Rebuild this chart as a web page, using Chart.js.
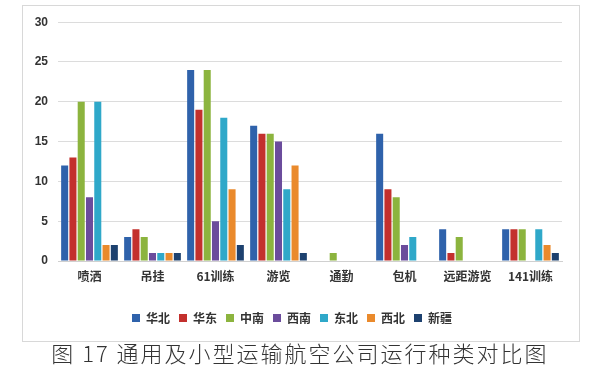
<!DOCTYPE html>
<html>
<head>
<meta charset="utf-8">
<script src="https://cdn.jsdelivr.net/npm/chart.js@4"></script>
<style>
  body { margin: 0; background: #fff; width: 600px; height: 367px; overflow: hidden; position: relative; }
  #box { position: absolute; left: 22px; top: 5px; width: 556px; height: 335px; border: 1px solid #d8d8d8; }
  #wrap { position: absolute; left: 22px; top: 5px; width: 558px; height: 337px; }
  #caption { position: absolute; left: 0; width: 600px; top: 336px; text-align: center;
    font-family: "Noto Sans CJK SC", sans-serif; font-weight: 300; font-size: 22px; color: #333; letter-spacing: 2px; }
</style>
</head>
<body>
<div id="box"></div>
<div id="wrap"><canvas id="myChart"></canvas></div>
<div id="caption">图 17 通用及小型运输航空公司运行种类对比图</div>
<script>
// categories and series
const categories = ['喷洒', '吊挂', '61训练', '游览', '通勤', '包机', '远距游览', '141训练'];
const huabei   = [12, 3, 24, 17, 0, 16, 4, 4];
const huadong  = [13, 4, 19, 16, 0, 9, 1, 4];
const zhongnan = [20, 3, 24, 16, 1, 8, 3, 4];
const xinan    = [8, 1, 5, 15, 0, 2, 0, 0];
const dongbei  = [20, 1, 18, 9, 0, 3, 0, 4];
const xibei    = [2, 1, 9, 12, 0, 0, 0, 2];
const xinjiang = [2, 1, 2, 1, 0, 0, 0, 1];
const yTicks = [0, 5, 10, 15, 20, 25, 30];

const ctx = document.getElementById('myChart');
const ds = (label, data, color) => ({
  label: label, data: data, backgroundColor: color, borderColor: color, borderWidth: 0,
  barPercentage: 0.85, categoryPercentage: 0.92
});

new Chart(ctx, {
  type: 'bar',
  data: {
    labels: categories,
    datasets: [
      ds('华北', huabei, '#2f62ab'),
      ds('华东', huadong, '#c3302d'),
      ds('中南', zhongnan, '#8cb43e'),
      ds('西南', xinan, '#6b4c9c'),
      ds('东北', dongbei, '#2fa8c9'),
      ds('西北', xibei, '#ea8a2c'),
      ds('新疆', xinjiang, '#1d416f')
    ]
  },
  options: {
    responsive: true,
    maintainAspectRatio: false,
    animation: false,
    layout: { padding: { top: 17, right: 18, left: 0, bottom: 8 } },
    plugins: {
      legend: {
        position: 'bottom',
        labels: {
          boxWidth: 8, boxHeight: 8, padding: 9,
          color: '#333',
          font: { family: '"Noto Sans CJK SC", sans-serif', size: 12, weight: 'bold' }
        }
      },
      tooltip: { enabled: false }
    },
    scales: {
      x: {
        grid: { display: false, drawTicks: false },
        border: { color: '#d0d0d0' },
        ticks: {
          padding: 8, color: '#333',
          font: { family: '"Noto Sans CJK SC", sans-serif', size: 12, weight: 'bold' }
        },
        afterFit: (s) => { s.height = 42; }
      },
      y: {
        min: 0, max: 30,
        afterBuildTicks: (s) => { s.ticks = yTicks.map(v => ({ value: v })); },
        grid: { color: '#dcdcdc', drawTicks: false },
        border: { display: false },
        ticks: {
          padding: 10, color: '#333',
          font: { family: 'Liberation Sans, sans-serif', size: 12, weight: 'bold' }
        },
        afterFit: (s) => { s.width = 36; }
      }
    }
  }
});
</script>
</body>
</html>
